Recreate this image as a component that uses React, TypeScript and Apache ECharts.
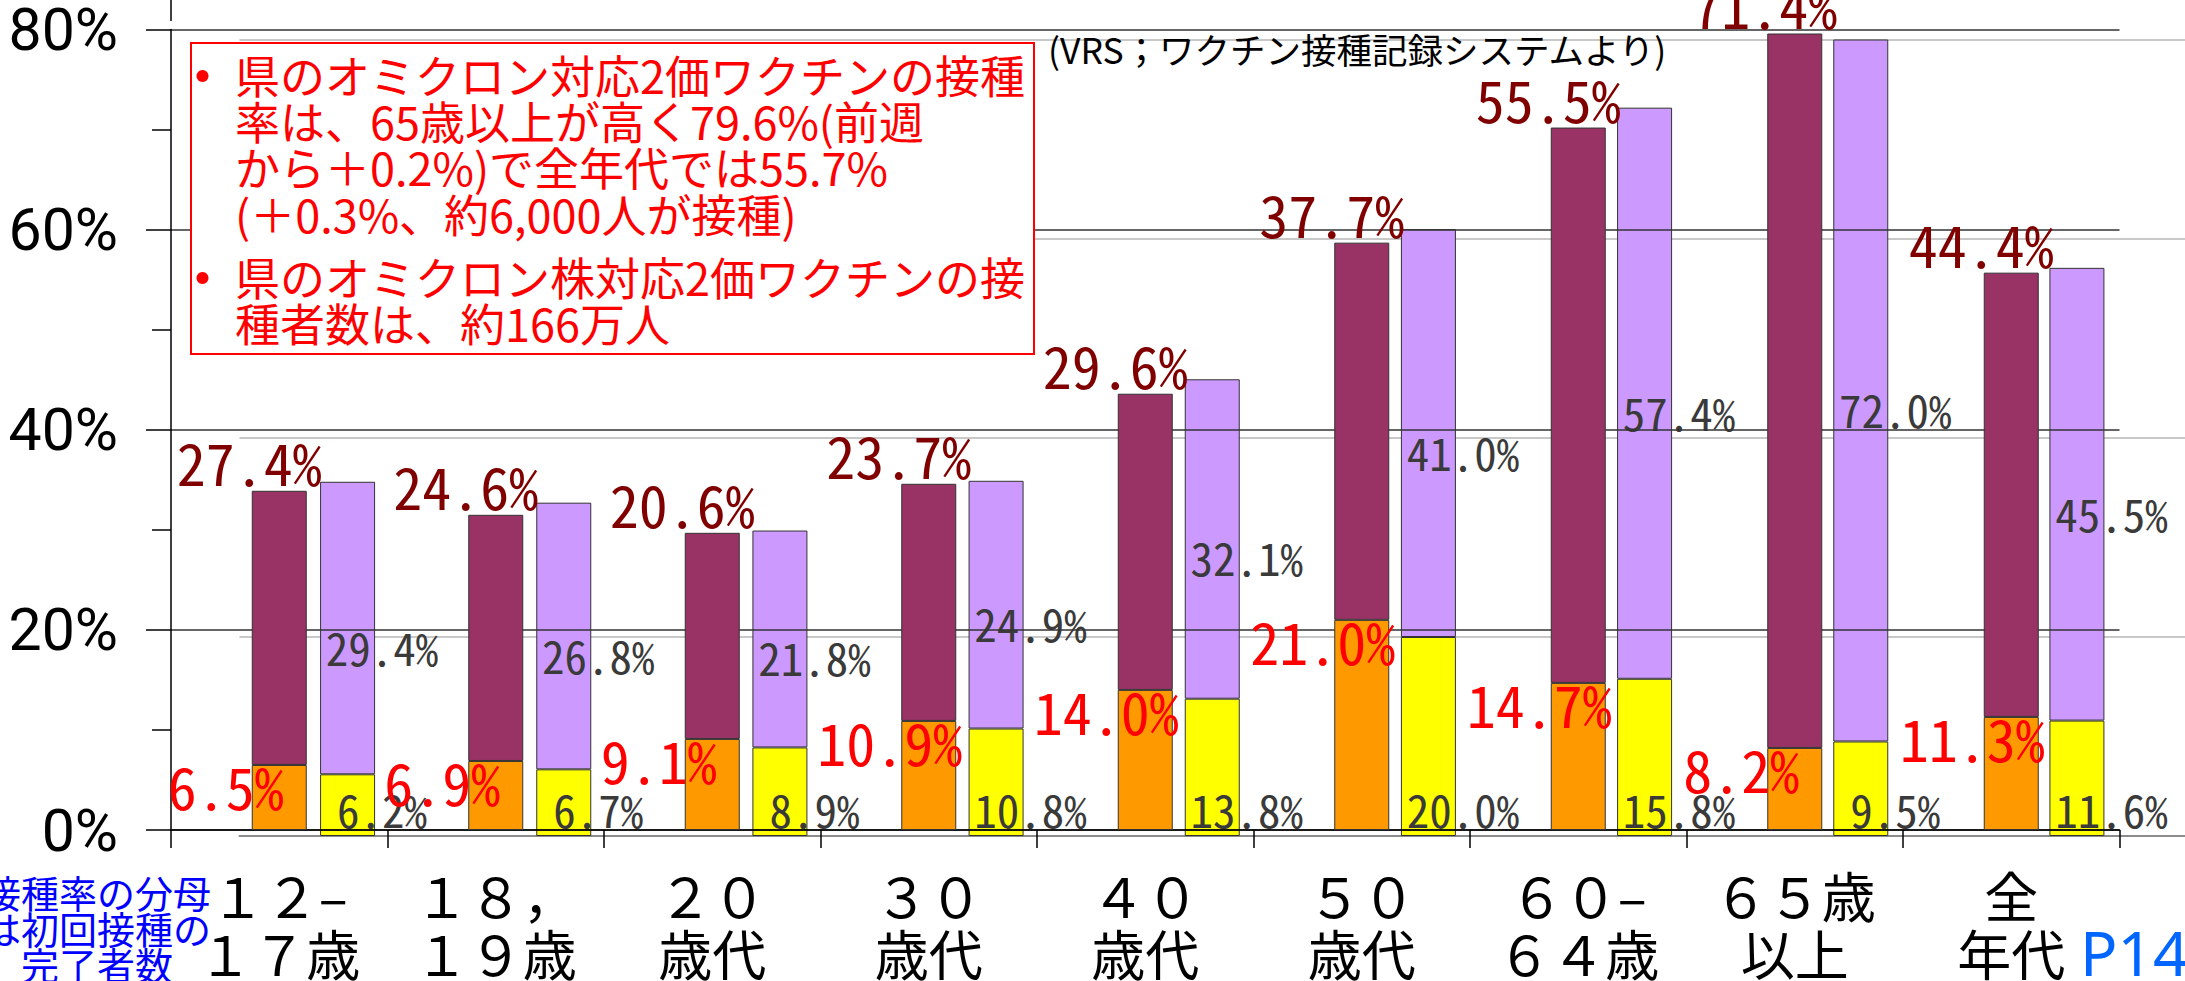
import { useEffect, useRef } from 'react';
import * as echarts from 'echarts';

const categories = [
  '１２–\n１７歳',
  '１８，\n１９歳',
  '２０\n歳代',
  '３０\n歳代',
  '４０\n歳代',
  '５０\n歳代',
  '６０–\n６４歳',
  '６５歳\n以上',
  '全\n年代',
];
// left bar of each pair (drawn on the front chart)
const orangeValues = [6.5, 6.9, 9.1, 10.9, 14.0, 21.0, 14.7, 8.2, 11.3];
const maroonValues = [27.4, 24.6, 20.6, 23.7, 29.6, 37.7, 55.5, 71.4, 44.4];
// right bar of each pair (drawn on the back chart)
const yellowValues = [6.2, 6.7, 8.9, 10.8, 13.8, 20.0, 15.8, 9.5, 11.6];
const purpleValues = [29.4, 26.8, 21.8, 24.9, 32.1, 41.0, 57.4, 72.0, 45.5];
const yTickValues = [0, 20, 40, 60, 80];

const boxParagraph1 =
  '県のオミクロン対応2価ワクチンの接種\n率は、65歳以上が高く79.6%(前週\nから＋0.2%)で全年代では55.7%\n(＋0.3%、約6,000人が接種)';
const boxParagraph2 = '県のオミクロン株対応2価ワクチンの接\n種者数は、約166万人';
const sourceNote = '(VRS；ワクチン接種記録システムより)';
const footNote = '接種率の分母\nは初回接種の\n完了者数';
const pageNo = 'P14';

const MONO = "'Noto Sans Mono CJK JP', 'DejaVu Sans Mono', monospace";
const JP = "'Noto Sans CJK JP', sans-serif";

export default function App() {
  const ref = useRef<HTMLDivElement>(null);
  useEffect(() => {
    const chart = echarts.init(ref.current!, null, { renderer: 'svg' });
    const fmt = (p: any) => Number(p.value).toFixed(1) + '%';
    chart.setOption({
      animation: false,
      backgroundColor: '#ffffff',
      grid: [
        { left: 171, top: 21, width: 1948.5, height: 812 },
        { left: 239.5, top: 40, width: 1948.5, height: 796 },
      ],
      xAxis: [
        {
          type: 'category',
          gridIndex: 0,
          data: categories,
          z: 3,
          axisLine: { show: true, lineStyle: { color: '#000', width: 1.5 } },
          axisTick: { show: true, length: 18, lineStyle: { color: '#000', width: 1.5 } },
          axisLabel: {
            interval: 0,
            margin: 35,
            color: '#000',
            fontSize: 54,
            lineHeight: 58,
            fontFamily: JP,
          },
        },
        {
          type: 'category',
          gridIndex: 1,
          data: categories,
          z: 0,
          axisLine: { show: true, lineStyle: { color: '#8c8c8c', width: 2 } },
          axisTick: { show: false },
          axisLabel: { show: false },
        },
      ],
      yAxis: [
        {
          type: 'value',
          gridIndex: 0,
          min: 0,
          max: 80,
          interval: 20,
          z: 3,
          axisLine: { show: true, lineStyle: { color: '#000', width: 1.5 } },
          axisTick: { show: true, length: 25, lineStyle: { color: '#000', width: 1.5 } },
          minorTick: { show: true, splitNumber: 2, length: 19, lineStyle: { color: '#000', width: 1.5 } },
          splitLine: { show: true, lineStyle: { color: '#333', width: 1.5 } },
          axisLabel: {
            margin: 53,
            color: '#000',
            fontSize: 59,
            fontFamily: "Roboto, 'Liberation Sans', sans-serif",
            formatter: (v: number) => (yTickValues.includes(v) ? v + '%' : ''),
          },
        },
        {
          type: 'value',
          gridIndex: 1,
          min: 0,
          max: 80,
          interval: 20,
          z: 0,
          axisLine: { show: false },
          axisTick: { show: false },
          axisLabel: { show: false },
          splitLine: { show: true, lineStyle: { color: '#c8c8c8', width: 2 } },
        },
      ],
      series: [
        {
          type: 'bar',
          name: 'yellow',
          xAxisIndex: 1,
          yAxisIndex: 1,
          stack: 'back',
          barWidth: 55,
          z: 1,
          data: yellowValues,
          itemStyle: { color: '#ffff00', borderColor: '#333', borderWidth: 1 },
          label: {
            show: true,
            formatter: fmt,
            position: ['100%', '100%'],
            offset: [7, -28],
            align: 'center',
            verticalAlign: 'middle',
            color: '#3a3a3a',
            fontSize: 45,
            fontFamily: MONO,
          },
        },
        {
          type: 'bar',
          name: 'purple',
          xAxisIndex: 1,
          yAxisIndex: 1,
          stack: 'back',
          barWidth: 55,
          z: 1,
          data: purpleValues,
          itemStyle: { color: '#cc99ff', borderColor: '#333', borderWidth: 1 },
          label: {
            show: true,
            formatter: fmt,
            position: ['100%', '50%'],
            offset: [7, 18],
            align: 'center',
            verticalAlign: 'middle',
            color: '#3a3a3a',
            fontSize: 45,
            fontFamily: MONO,
          },
        },
        {
          type: 'bar',
          name: 'orange',
          xAxisIndex: 0,
          yAxisIndex: 0,
          stack: 'front',
          barWidth: 55,
          z: 5,
          data: orangeValues,
          itemStyle: { color: '#ff9900', borderColor: '#333', borderWidth: 1 },
          label: {
            show: true,
            formatter: fmt,
            position: [-84, 20],
            align: 'left',
            verticalAlign: 'middle',
            color: '#ff0000',
            fontSize: 58,
            fontFamily: MONO,
          },
        },
        {
          type: 'bar',
          name: 'maroon',
          xAxisIndex: 0,
          yAxisIndex: 0,
          stack: 'front',
          barWidth: 55,
          z: 5,
          data: maroonValues,
          itemStyle: { color: '#993366', borderColor: '#333', borderWidth: 1 },
          label: {
            show: true,
            formatter: fmt,
            position: [-75, -30],
            align: 'left',
            verticalAlign: 'middle',
            color: '#800000',
            fontSize: 58,
            fontFamily: MONO,
          },
        },
      ],
      graphic: [
        {
          type: 'line',
          z: 6,
          shape: { x1: 171, y1: 0, x2: 171, y2: 21 },
          style: { stroke: '#000', lineWidth: 1.5 },
        },
        {
          type: 'rect',
          z: 20,
          shape: { x: 191, y: 43, width: 843, height: 311 },
          style: { fill: '#fff', stroke: '#ff0000', lineWidth: 2 },
        },
        { type: 'circle', z: 21, shape: { cx: 202.5, cy: 76, r: 6 }, style: { fill: '#ff0000' } },
        { type: 'circle', z: 21, shape: { cx: 202.5, cy: 278, r: 6 }, style: { fill: '#ff0000' } },
        {
          type: 'text',
          z: 21,
          x: 235,
          y: 51,
          style: {
            text: boxParagraph1,
            fontSize: 45,
            lineHeight: 46.3,
            fontFamily: JP,
            fill: '#ff0000',
            align: 'left',
            verticalAlign: 'top',
          },
        },
        {
          type: 'text',
          z: 21,
          x: 235,
          y: 253,
          style: {
            text: boxParagraph2,
            fontSize: 45,
            lineHeight: 46.3,
            fontFamily: JP,
            fill: '#ff0000',
            align: 'left',
            verticalAlign: 'top',
          },
        },
        {
          type: 'text',
          z: 21,
          x: 1048,
          y: 48,
          style: {
            text: sourceNote,
            fontSize: 35.5,
            fontFamily: JP,
            fill: '#000',
            align: 'left',
            verticalAlign: 'middle',
          },
        },
        {
          type: 'text',
          z: 21,
          x: 97,
          y: 873,
          style: {
            text: footNote,
            fontSize: 38,
            lineHeight: 36,
            fontFamily: JP,
            fill: '#0000ff',
            align: 'center',
            verticalAlign: 'top',
          },
        },
        {
          type: 'text',
          z: 21,
          x: 2080,
          y: 952,
          style: {
            text: pageNo,
            fontSize: 62,
            fontFamily: "'Noto Sans', sans-serif",
            fill: '#0066ff',
            align: 'left',
            verticalAlign: 'middle',
          },
        },
      ],
    });
    return () => chart.dispose();
  }, []);
  return (
    <div
      ref={ref}
      style={{ position: 'fixed', left: 0, top: 0, width: 2185, height: 981, background: '#fff' }}
    />
  );
}
